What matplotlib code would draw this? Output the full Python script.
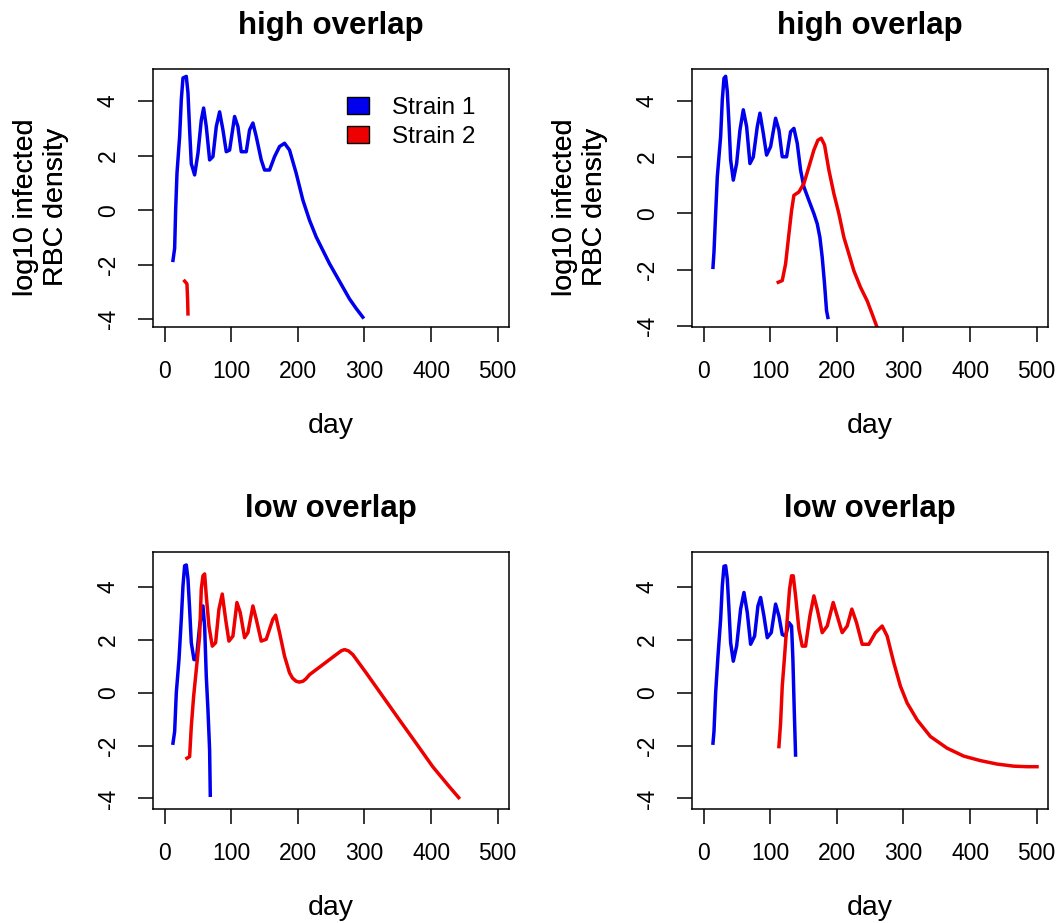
import matplotlib
matplotlib.use("Agg")
import matplotlib.pyplot as plt
from matplotlib.patches import Patch

plt.rcParams['font.family'] = ['Liberation Sans', 'DejaVu Sans']

titles = ["high overlap", "high overlap", "low overlap", "low overlap"]
xticks = [0, 100, 200, 300, 400, 500]
yticks = [-4, -2, 0, 2, 4]
ylims = [(-4.28, 5.17), (-4.04, 5.13), (-4.4, 5.32), (-4.4, 5.32)]
blue = '#0000ee'
red = '#ee0000'

# panel 1: high overlap, strain 2 dies out
p1_s1_day = [12.5, 15, 16.5, 18.5, 22.5, 25, 27.5, 32.5, 35, 37.5, 40, 45, 50, 55, 58.5, 62.5, 67.5, 72.5,
             77.5, 82.5, 87.5, 92.5, 97.5, 105, 110, 115, 122.5, 127.5, 132.5, 137.5, 145, 150, 157.5, 165,
             172.5, 180, 187.5, 197.5, 207.5, 217.5, 227.5, 237.5, 247.5, 257.5, 267.5, 277.5, 287.5, 297.5]
p1_s1_y = [-1.84, -1.4, 0.0, 1.35, 2.7, 4.05, 4.84, 4.9, 4.3, 2.94, 1.7, 1.29, 2.08, 3.3, 3.74, 3.06, 1.84, 1.96,
           3.06, 3.6, 2.94, 2.14, 2.2, 3.43, 3.06, 2.14, 2.14, 2.94, 3.19, 2.7, 1.84, 1.47, 1.47, 1.96,
           2.33, 2.45, 2.2, 1.35, 0.37, -0.37, -0.98, -1.47, -1.96, -2.39, -2.82, -3.25, -3.6, -3.92]
p1_s2_day = [30.0, 33.5, 34.5, 35.0]
p1_s2_y = [-2.6, -2.7, -3.3, -3.8]

# panel 2: high overlap, strain 2 takes over
p2_s1_day = [14, 15.5, 18, 20.5, 25.5, 28, 30.5, 33, 35.5, 38, 40.5, 44.5, 49.5, 54.5, 59.5, 64.5, 69.5, 74.5,
             80.5, 84.5, 89.5, 94.5, 100.5, 108, 113, 118, 124.5, 130.5, 135.5, 140.5, 145.5, 150.5, 158,
             165.5, 170.5, 174.5, 178, 181.5, 184.5, 186.5]
p2_s1_y = [-1.92, -1.38, 0.0, 1.3, 2.73, 4.04, 4.8, 4.87, 4.33, 3.2, 1.9, 1.18, 1.77, 2.96, 3.68, 3.08, 1.77, 2.0,
           3.08, 3.56, 2.85, 2.07, 2.37, 3.38, 2.96, 2.01, 2.01, 2.9, 3.02, 2.49, 1.54, 0.94, 0.46,
           -0.01, -0.37, -0.85, -1.56, -2.51, -3.46, -3.7]
p2_s2_day = [112, 118, 123, 128, 132, 135.5, 143, 150.5, 158, 165.5, 171.5, 176.5, 181.5, 188, 195.5, 203,
             210.5, 218, 225.5, 235.5, 245.5, 253, 260.5, 268]
p2_s2_y = [-2.45, -2.39, -1.8, -0.73, 0.1, 0.64, 0.76, 1.06, 1.65, 2.25, 2.6, 2.67, 2.43, 1.54, 0.7, -0.01,
           -0.85, -1.44, -2.04, -2.63, -3.11, -3.58, -4.06, -4.5]

# panel 3: low overlap
p3_s1_day = [12.5, 15, 17.5, 21.5, 25, 27.5, 30, 32.5, 35, 37.5, 40, 44, 47.5, 52.5, 57.5, 60, 62.5, 65,
             67.5, 68.5]
p3_s1_y = [-1.91, -1.47, 0.0, 1.25, 2.78, 4.04, 4.8, 4.83, 4.3, 3.16, 1.89, 1.25, 1.25, 2.52, 3.28, 2.52,
           0.62, -0.65, -2.17, -3.88]
p3_s2_day = [33.5, 37.5, 40, 43.5, 47.5, 52.5, 55, 57.5, 60, 62.5, 66.5, 71.5, 76.5, 81.5, 86.5, 91.5, 96.5,
             102.5, 108.5, 113.5, 120, 125, 132.5, 137.5, 145, 152.5, 162.5, 166.5, 172.5, 180, 187.5, 192,
             197.5, 202, 207.5, 212, 217.5, 237.5, 257.5, 265, 270, 276, 282.5, 302.5, 327.5, 352.5, 377.5,
             402.5, 427.5, 441.5]
p3_s2_y = [-2.48, -2.42, -1.28, -0.14, 0.87, 2.14, 3.92, 4.42, 4.49, 3.66, 2.52, 1.76, 1.89, 3.16, 3.73, 2.78,
           1.95, 2.14, 3.41, 3.03, 2.08, 2.27, 3.28, 2.78, 1.95, 2.02, 2.78, 2.93, 2.27, 1.38, 0.75, 0.55,
           0.43, 0.4, 0.43, 0.52, 0.68, 1.06, 1.44, 1.58, 1.63, 1.58, 1.44, 0.75, -0.14, -1.03, -1.91,
           -2.8, -3.56, -3.97]

# panel 4: low overlap, long tail
p4_s1_day = [14, 15.5, 18, 21.5, 25.5, 28, 30.5, 33, 35.5, 38, 40.5, 44.5, 49.5, 55.5, 60.5, 65.5, 70.5, 76.5,
             81.5, 85.5, 90.5, 95.5, 101.5, 108, 113, 118, 123, 128, 132, 134, 136, 138]
p4_s1_y = [-1.91, -1.47, 0.0, 1.38, 2.78, 4.04, 4.78, 4.8, 4.3, 3.16, 1.89, 1.19, 1.76, 3.16, 3.79, 3.03, 1.83,
           2.14, 3.28, 3.6, 2.9, 2.08, 2.27, 3.35, 2.9, 2.2, 2.14, 2.65, 2.52, 1.25, -0.65, -2.36]
p4_s2_day = [113, 115.5, 118, 121.5, 125.5, 129, 132, 134.5, 138, 143, 148, 153, 159.5, 165.5, 170.5, 178,
             185.5, 194.5, 200.5, 208, 215.5, 222.5, 229.5, 238, 248, 258, 268, 275.5, 285.5, 295.5, 305.5,
             320.5, 340.5, 365.5, 390.5, 415.5, 440.5, 465.5, 485.5, 500.5]
p4_s2_y = [-2.04, -1.15, 0.24, 1.38, 2.78, 3.92, 4.42, 4.42, 3.66, 2.4, 1.76, 1.76, 2.9, 3.66, 3.16, 2.27,
           2.52, 3.41, 2.9, 2.27, 2.52, 3.16, 2.65, 1.83, 1.83, 2.27, 2.52, 2.14, 1.13, 0.24, -0.39,
           -1.03, -1.66, -2.1, -2.4, -2.57, -2.7, -2.78, -2.8, -2.8]

panels = [(p1_s1_day, p1_s1_y, p1_s2_day, p1_s2_y),
          (p2_s1_day, p2_s1_y, p2_s2_day, p2_s2_y),
          (p3_s1_day, p3_s1_y, p3_s2_day, p3_s2_y),
          (p4_s1_day, p4_s1_y, p4_s2_day, p4_s2_y)]

W, H = 1060, 923
fig = plt.figure(figsize=(W / 100, H / 100), dpi=100)
# axes boxes in pixels: left, top, right, bottom
boxes = [(153, 69, 509, 327), (692, 69, 1048, 327), (153, 552, 509, 809), (692, 552, 1048, 809)]

for i, (l, t, r, b) in enumerate(boxes):
    ax = fig.add_axes([l / W, 1 - b / H, (r - l) / W, (b - t) / H])
    d1, y1, d2, y2 = panels[i]
    ax.plot(d1, y1, color=blue, lw=2.5)
    ax.plot(d2, y2, color=red, lw=2.5)
    ax.set_xlim(-17.5, 517)
    ax.set_ylim(*ylims[i])
    ax.set_xticks(xticks)
    ax.set_yticks(yticks)
    ax.set_yticklabels([str(v) for v in yticks], rotation=90, va='center')
    ax.tick_params(length=11, width=1.1, labelsize=16.5, pad=13, direction='out')
    for s in ax.spines.values():
        s.set_linewidth(1.1)
    ax.set_title(titles[i], fontsize=22.5, fontweight='bold', pad=25)
    ax.text(0.5, -99 / (b - t), "day", transform=ax.transAxes, ha='center', va='center', fontsize=20.5)
    ax.text(-112 / (r - l), (b - 207) / (b - t), "log10 infected\nRBC density", transform=ax.transAxes,
            rotation=90, ha='center', va='center', multialignment='center', fontsize=20.5, linespacing=1.2)
    if i == 0:
        handles = [Patch(facecolor=blue, edgecolor='black', lw=1), Patch(facecolor=red, edgecolor='black', lw=1)]
        ax.legend(handles, ["Strain 1", "Strain 2"], loc='upper left', bbox_to_anchor=(0.545, 0.89),
                  frameon=False, fontsize=17.5, handlelength=0.9, handleheight=0.7, handletextpad=0.95,
                  labelspacing=0.28, borderpad=0, borderaxespad=0)

fig.savefig("out.png", dpi=100)
